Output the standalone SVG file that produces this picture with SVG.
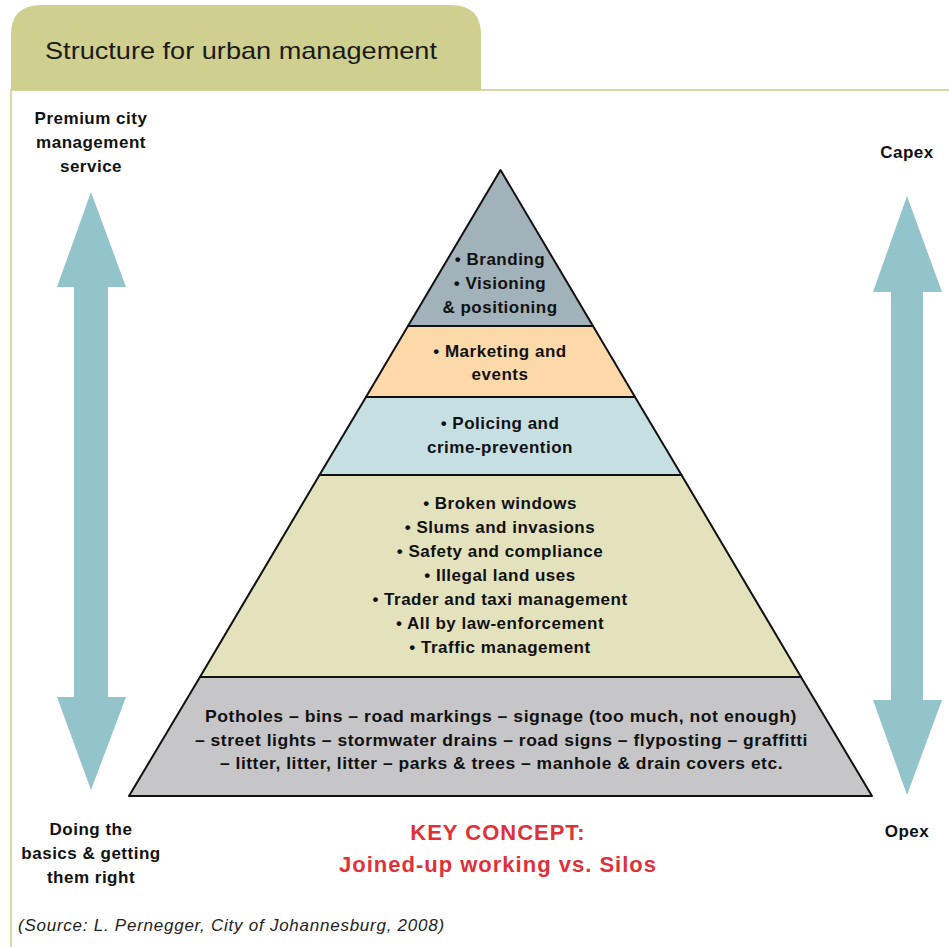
<svg xmlns="http://www.w3.org/2000/svg" width="949" height="947" viewBox="0 0 949 947">
<style>
.b{font-family:"Liberation Sans",Arial,sans-serif;font-weight:bold;font-size:17px;letter-spacing:0.5px;fill:#111;text-anchor:middle}
.k{font-family:"Liberation Sans",Arial,sans-serif;font-weight:bold;font-size:22px;letter-spacing:1px;fill:#e0303a;text-anchor:middle}
.layer{stroke:#111;stroke-width:2;stroke-linejoin:round}
.arrow{fill:#93c4cb}
</style>
<rect width="949" height="947" fill="#fff"/>
<!-- frame -->
<path d="M11,947 V90 H949" fill="none" stroke="#d8d8a4" stroke-width="2"/>
<path d="M11,90 V35 Q11,5 41,5 H451 Q481,5 481,35 V90 Z" fill="#cfcf8f"/>
<text x="45" y="59" font-family="Liberation Sans,Arial,sans-serif" font-size="24" fill="#1a1a1a" textLength="392" lengthAdjust="spacingAndGlyphs">Structure for urban management</text>

<!-- arrows -->
<g id="arrow-left">
<path class="arrow" d="M91,192 L126,287 L108,287 L108,697 L126,697 L91,790 L57,697 L74,697 L74,287 L57,287 Z"/>
</g>
<g id="arrow-right">
<path class="arrow" d="M907,196 L942,292 L923,292 L923,700 L942,700 L907,795 L873,700 L891,700 L891,292 L873,292 Z"/>
</g>

<!-- pyramid layers -->
<g id="layer-top">
<polygon class="layer" points="500.5,170 593,326 408,326" fill="#a2b2bb"/>
<text class="b" x="500" y="265">• Branding</text>
<text class="b" x="500" y="289">• Visioning</text>
<text class="b" x="500" y="313">&amp; positioning</text>
</g>
<g id="layer-marketing">
<polygon class="layer" points="408,326 593,326 635,397 366,397" fill="#fdd9aa"/>
<text class="b" x="500" y="357">• Marketing and</text>
<text class="b" x="500" y="380">events</text>
</g>
<g id="layer-policing">
<polygon class="layer" points="366,397 635,397 681.5,475 319.5,475" fill="#c6dfe3"/>
<text class="b" x="500" y="429">• Policing and</text>
<text class="b" x="500" y="453">crime-prevention</text>
</g>
<g id="layer-enforcement">
<polygon class="layer" points="319.5,475 681.5,475 801,677 200,677" fill="#e3e2bd"/>
<text class="b" x="500" y="509">• Broken windows</text>
<text class="b" x="500" y="533">• Slums and invasions</text>
<text class="b" x="500" y="557">• Safety and compliance</text>
<text class="b" x="500" y="581">• Illegal land uses</text>
<text class="b" x="500" y="605">• Trader and taxi management</text>
<text class="b" x="500" y="629">• All by law-enforcement</text>
<text class="b" x="500" y="653">• Traffic management</text>
</g>
<g id="layer-basics">
<polygon class="layer" points="200,677 801,677 872,796 129,796" fill="#c6c6c8"/>
<text class="b" x="501" y="722" textLength="592" lengthAdjust="spacingAndGlyphs">Potholes – bins – road markings – signage (too much, not enough)</text>
<text class="b" x="501.5" y="746" textLength="613" lengthAdjust="spacingAndGlyphs">– street lights – stormwater drains – road signs – flyposting – graffitti</text>
<text class="b" x="501.5" y="769" textLength="563" lengthAdjust="spacingAndGlyphs">– litter, litter, litter – parks &amp; trees – manhole &amp; drain covers etc.</text>
</g>

<!-- side labels -->
<g id="label-premium">
<text class="b" x="91" y="124">Premium city</text>
<text class="b" x="91" y="148">management</text>
<text class="b" x="91" y="172">service</text>
</g>
<g id="label-basics">
<text class="b" x="91" y="835">Doing the</text>
<text class="b" x="91" y="859">basics &amp; getting</text>
<text class="b" x="91" y="883">them right</text>
</g>
<g id="label-capex"><text class="b" x="907" y="158">Capex</text></g>
<g id="label-opex"><text class="b" x="907" y="837">Opex</text></g>

<g id="key-concept">
<text class="k" x="498" y="840">KEY CONCEPT:</text>
<text class="k" x="498" y="872">Joined-up working vs. Silos</text>
</g>

<text x="18" y="931" font-family="Liberation Sans,Arial,sans-serif" font-style="italic" font-size="17" letter-spacing="0.75" fill="#222">(Source: L. Pernegger, City of Johannesburg, 2008)</text>
</svg>
